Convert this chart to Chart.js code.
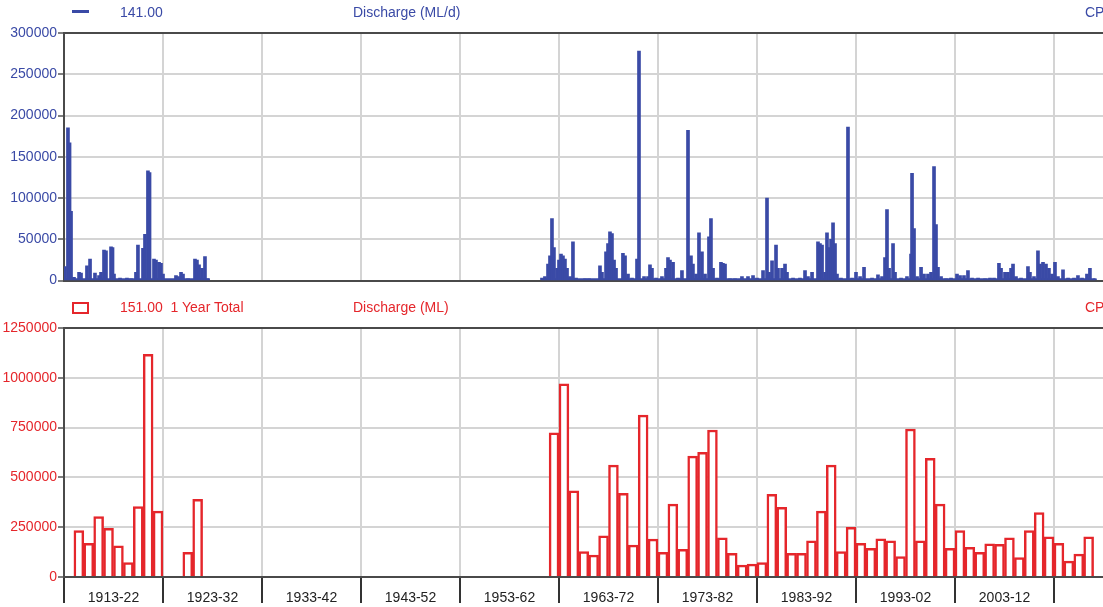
<!DOCTYPE html>
<html>
<head>
<meta charset="utf-8">
<script src="https://cdn.jsdelivr.net/npm/chart.js@4.4.1/dist/chart.umd.min.js"></script>
<style>
  html, body { margin: 0; padding: 0; background: #fff; }
  body { width: 1103px; height: 607px; position: relative; overflow: hidden; font-family: "Liberation Sans", Arial, sans-serif; }
  canvas { position: absolute; left: 0; }
  .t { position: absolute; font-size: 14px; line-height: 16px; white-space: pre; }
  .blue { color: #3a4aa6; }
  .red { color: #e5262b; }
</style>
</head>
<body>
<canvas id="top" width="1103" height="290" style="top:0;width:1103px;height:290px"></canvas>
<canvas id="bot" width="1103" height="317" style="top:290px;width:1103px;height:317px"></canvas>

<div style="position:absolute;left:72px;top:10px;width:17px;height:3px;background:#3a4aa6"></div>
<div class="t blue" style="left:120px;top:4px">141.00</div>
<div class="t blue" style="left:353px;top:4px">Discharge (ML/d)</div>
<div class="t blue" style="left:1085px;top:4px">CP</div>

<div style="position:absolute;left:72px;top:302px;width:17px;height:12px;border:2px solid #e5262b;box-sizing:border-box"></div>
<div class="t red" style="left:120px;top:299px">151.00  1 Year Total</div>
<div class="t red" style="left:353px;top:299px">Discharge (ML)</div>
<div class="t red" style="left:1085px;top:299px">CP</div>

<script>
// ---- Data ----
const decadeStarts = [1913, 1923, 1933, 1943, 1953, 1963, 1973, 1983, 1993, 2003, 2013];
const decadeLabels = ["1913-22", "1923-32", "1933-42", "1943-52", "1953-62", "1963-72", "1973-82", "1983-92", "1993-02", "2003-12", ""];

// Daily discharge peaks (ML/d): [decimal year, value]
const dailyPeaks = [
  [1913.10,17000],[1913.40,185000],[1913.56,167000],[1913.71,84000],[1914.01,4000],[1914.52,10000],[1914.72,9000],
  [1915.32,18000],[1915.63,26000],[1916.13,9000],[1916.54,6000],[1916.74,10000],[1917.04,37000],[1917.24,36000],
  [1917.75,41000],[1917.90,40000],[1918.05,8000],[1918.66,3000],[1919.36,3000],[1919.77,2000],[1920.27,10000],
  [1920.47,43000],[1920.98,39000],[1921.18,56000],[1921.48,133000],[1921.64,131000],[1922.09,26000],[1922.29,25000],
  [1922.60,22000],[1922.80,21000],[1923.00,8000],[1924.31,6000],[1924.52,5000],[1924.82,10000],[1925.02,8000],
  [1925.53,2000],[1926.23,26000],[1926.43,25000],[1926.64,19000],[1926.94,15000],[1927.24,29000],[1927.55,2000],
  [1961.28,3000],[1961.58,5000],[1961.89,20000],[1962.09,30000],[1962.29,75000],[1962.49,40000],[1962.80,15000],
  [1963.00,25000],[1963.20,32000],[1963.40,30000],[1963.60,26000],[1963.81,15000],[1964.11,5000],[1964.41,47000],
  [1964.72,3000],[1965.63,2000],[1966.03,2000],[1967.14,18000],[1967.34,10000],[1967.75,35000],[1967.95,45000],
  [1968.15,59000],[1968.35,57000],[1968.56,25000],[1968.76,15000],[1969.46,33000],[1969.67,30000],[1969.97,8000],
  [1970.37,3000],[1970.88,26000],[1971.08,278000],[1971.59,5000],[1971.99,5000],[1972.19,19000],[1972.39,15000],
  [1972.80,3000],[1973.40,5000],[1973.81,15000],[1974.01,28000],[1974.21,25000],[1974.52,22000],[1975.02,3000],
  [1975.42,12000],[1976.03,182000],[1976.33,30000],[1976.53,20000],[1976.84,8000],[1977.14,58000],[1977.44,35000],
  [1977.75,8000],[1978.15,53000],[1978.35,75000],[1978.56,15000],[1978.96,3000],[1979.36,22000],[1979.56,21000],
  [1979.77,20000],[1980.27,2000],[1980.78,2000],[1981.48,5000],[1982.09,5000],[1982.60,6000],[1983.00,3000],
  [1983.61,12000],[1984.01,100000],[1984.22,10000],[1984.52,24000],[1984.92,43000],[1985.12,15000],[1985.53,15000],
  [1985.83,20000],[1986.03,10000],[1986.64,3000],[1987.34,3000],[1987.85,12000],[1988.15,5000],[1988.56,10000],
  [1989.16,47000],[1989.36,45000],[1989.57,43000],[1989.87,10000],[1990.07,58000],[1990.27,40000],[1990.48,50000],
  [1990.68,70000],[1990.88,45000],[1991.08,8000],[1991.48,3000],[1992.19,186000],[1992.60,3000],[1993.00,10000],
  [1993.41,5000],[1993.81,16000],[1994.62,3000],[1995.22,7000],[1995.63,5000],[1995.93,28000],[1996.13,86000],
  [1996.34,15000],[1996.74,45000],[1996.94,10000],[1997.55,3000],[1998.15,5000],[1998.56,32000],[1998.66,130000],
  [1998.86,63000],[1999.17,5000],[1999.57,16000],[1999.87,8000],[2000.27,8000],[2000.58,10000],[2000.88,138000],
  [2001.08,68000],[2001.28,16000],[2001.59,5000],[2002.09,2000],[2002.60,3000],[2003.20,8000],[2003.51,6000],
  [2003.91,6000],[2004.31,12000],[2004.72,3000],[2005.33,3000],[2006.03,2000],[2006.54,3000],[2006.94,3000],
  [2007.44,21000],[2007.65,15000],[2008.05,10000],[2008.35,10000],[2008.66,15000],[2008.86,20000],[2009.16,5000],
  [2009.67,3000],[2010.37,17000],[2010.57,10000],[2010.98,5000],[2011.38,36000],[2011.59,20000],[2011.89,22000],
  [2012.19,20000],[2012.49,15000],[2012.80,8000],[2013.10,22000],[2013.40,5000],[2013.91,13000],[2014.42,3000],
  [2015.02,3000],[2015.42,6000],[2015.83,3000],[2016.33,8000],[2016.63,15000],[2017.14,2000]
];
// Low base flow periods: [start year, end year, value]
const baseFlow = [[1913.0, 1927.7, 1500], [1961.2, 2017.2, 1500]];

// Annual totals (ML)
const years = [1914,1915,1916,1917,1918,1919,1920,1921,1922,1925,1926,
  1962,1963,1964,1965,1966,1967,1968,1969,1970,1971,1972,1973,1974,1975,1976,1977,1978,1979,1980,1981,1982,
  1983,1984,1985,1986,1987,1988,1989,1990,1991,1992,1993,1994,1995,1996,1997,1998,1999,2000,2001,2002,
  2003,2004,2005,2006,2007,2008,2009,2010,2011,2012,2013,2014,2015,2016];
const annualTotals = [233000,169000,303000,244000,157000,72000,353000,1118000,331000,124000,390000,
  724000,970000,432000,127000,110000,207000,562000,420000,160000,813000,190000,124000,366000,139000,607000,626000,738000,197000,119000,60000,65000,
  72000,415000,350000,119000,119000,181000,331000,562000,127000,249000,169000,144000,191000,181000,102000,743000,181000,596000,366000,144000,
  233000,149000,124000,166000,164000,197000,97000,233000,323000,202000,169000,80000,115000,202000];

const topTicks = [0, 50000, 100000, 150000, 200000, 250000, 300000];
const botTicks = [0, 250000, 500000, 750000, 1000000, 1250000];

// ---- Styles ----
const BLUE = '#3a4aa6', RED = '#e5262b', GRID = '#d4d4d4', AXIS = '#4a4a4a';
const FONT = { family: '"Liberation Sans", Arial, sans-serif', size: 14 };
const X_MIN = 1913, X_MAX = 1913 + (1103 - 64) / 9.9;

function xScale(showLabels) {
  return {
    type: 'linear', min: X_MIN, max: X_MAX, offset: false,
    afterBuildTicks: s => { s.ticks = decadeStarts.map(v => ({ value: v })); },
    afterFit: s => { s.height = showLabels ? 30 : 8; },
    grid: {
      offset: false, color: GRID, lineWidth: 2,
      drawTicks: showLabels, tickLength: 26, tickColor: '#333', tickWidth: 2
    },
    border: { display: true, color: AXIS, width: 2 },
    ticks: {
      display: showLabels, autoSkip: false, maxRotation: 0, minRotation: 0,
      padding: -13, labelOffset: 49.5, color: '#222', font: FONT,
      callback: (v, i) => decadeLabels[i]
    }
  };
}
function yScale(max, ticks, color) {
  return {
    type: 'linear', min: 0, max: max,
    afterBuildTicks: s => { s.ticks = ticks.map(v => ({ value: v })); },
    afterFit: s => { s.width = 64; },
    grid: {
      color: c => (c.tick && c.tick.value === max) ? AXIS : GRID,
      lineWidth: 2, drawTicks: true, tickLength: 6, tickColor: '#555', tickWidth: 1.5
    },
    border: { display: true, color: AXIS, width: 2 },
    ticks: { color: color, font: FONT, padding: 1, callback: v => String(v) }
  };
}

const common = {
  responsive: false, maintainAspectRatio: false, animation: false,
  plugins: { legend: { display: false }, tooltip: { enabled: false } },
};

// Top chart: daily discharge
const baseData = [];
baseFlow.forEach((b, i) => {
  if (i > 0) baseData.push({ x: (baseFlow[i - 1][1] + b[0]) / 2, y: null });
  baseData.push({ x: b[0], y: b[2] });
  baseData.push({ x: b[1], y: b[2] });
});

new Chart(document.getElementById('top'), {
  type: 'bar',
  data: {
    datasets: [
      {
        type: 'bar', data: dailyPeaks.map(p => ({ x: p[0], y: p[1] })),
        backgroundColor: BLUE, borderWidth: 0, barThickness: 3
      },
      {
        type: 'line', data: baseData, borderColor: BLUE, backgroundColor: BLUE,
        borderWidth: 2, pointRadius: 0, fill: 'origin', spanGaps: false
      }
    ]
  },
  options: Object.assign({}, common, {
    layout: { padding: { top: 33, left: 0, right: 0, bottom: 0 } },
    scales: { x: xScale(false), y: yScale(300000, topTicks, BLUE) }
  })
});

// Bottom chart: annual totals
new Chart(document.getElementById('bot'), {
  type: 'bar',
  data: {
    datasets: [{
      data: years.map((y, i) => ({ x: y + 0.5, y: annualTotals[i] })),
      backgroundColor: '#ffffff', borderColor: RED, borderWidth: 2.5,
      barPercentage: 1, categoryPercentage: 1
    }]
  },
  options: Object.assign({}, common, {
    layout: { padding: { top: 38, left: 0, right: 0, bottom: 0 } },
    scales: { x: xScale(true), y: yScale(1250000, botTicks, RED) }
  })
});
</script>
</body>
</html>
